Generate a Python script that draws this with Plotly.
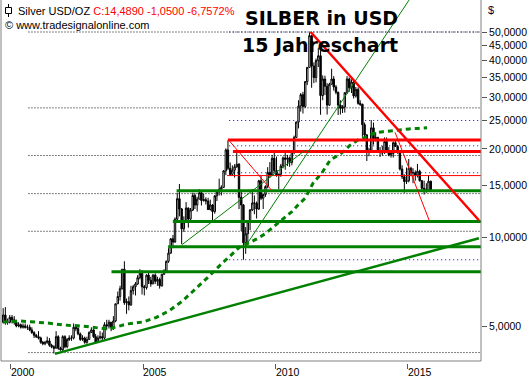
import datetime as dt
import plotly.graph_objects as go

# ---------------- data (monthly silver candles, USD/oz) ----------------
START_YEAR, START_MONTH = 1999, 9

OPEN = [
    5.15, 5.45, 5.15, 5.15,
    5.35, 5.25, 5.15, 5.00, 5.05, 4.95, 5.00, 4.95, 4.95, 4.85, 4.75, 4.65,
    4.60, 4.55, 4.40, 4.35, 4.40, 4.45, 4.30, 4.25, 4.20, 4.60, 4.20, 4.15,
    4.60, 4.25, 4.50, 4.55, 4.55, 4.95, 4.90, 4.70, 4.50, 4.55, 4.40, 4.50,
    4.75, 4.85, 4.60, 4.40, 4.55, 4.60, 4.55, 5.05, 5.00, 5.15, 4.95, 5.20,
    5.95, 6.30, 6.70, 7.80, 6.00, 6.05, 5.90, 6.60, 6.80, 6.95, 7.30, 7.55,
    6.80, 6.75, 7.45, 7.15, 6.95, 7.45, 7.10, 7.20, 6.85, 7.50, 7.70, 8.30,
    8.85, 9.90, 9.65, 11.55, 13.55, 12.50, 10.70, 11.30, 12.60, 11.55, 12.40, 13.90,
    12.90, 13.50, 14.20, 13.35, 13.45, 13.30, 12.45, 12.90, 12.25, 13.85, 14.30, 14.60,
    14.80, 16.85, 19.85, 17.20, 16.40, 16.95, 17.40, 17.75, 13.70, 12.90, 9.60, 10.30,
    11.30, 12.40, 13.10, 13.10, 12.50, 15.60, 13.60, 14.00, 14.90, 16.65, 16.30, 18.60,
    16.90, 16.25, 16.40, 17.50, 18.65, 18.45, 18.65, 18.00, 19.60, 21.90, 24.70, 28.00,
    30.60, 27.90, 33.90, 37.90, 48.60, 38.30, 35.00, 40.00, 41.50, 30.40, 34.60, 32.70,
    28.20, 33.20, 34.60, 32.50, 31.20, 28.20, 27.50, 27.80, 31.10, 34.60, 32.30, 33.80,
    30.30, 31.90, 28.60, 28.40, 24.20, 22.30, 19.70, 19.80, 23.60, 21.70, 21.90, 19.50,
    19.50, 19.40, 21.20, 19.70, 19.10, 19.30, 21.00, 20.40, 19.40, 17.10, 16.10, 15.50,
    15.60, 17.20, 16.60, 16.60, 16.30, 16.80, 15.60, 14.70, 14.60, 14.50, 15.54,
]
HIGH = [
    5.75, 5.80, 5.30, 5.45,
    5.45, 5.40, 5.25, 5.15, 5.10, 5.10, 5.10, 5.05, 5.05, 4.95, 4.80, 4.70,
    4.80, 4.60, 4.45, 4.45, 4.60, 4.55, 4.35, 4.30, 4.80, 4.65, 4.25, 4.65,
    4.65, 4.55, 4.65, 4.65, 5.10, 5.00, 5.05, 4.75, 4.65, 4.60, 4.60, 4.80,
    4.95, 4.90, 4.70, 4.65, 4.80, 4.75, 5.15, 5.25, 5.25, 5.15, 5.40, 5.95,
    6.55, 6.85, 7.80, 8.30, 6.20, 6.30, 6.85, 6.90, 7.05, 7.45, 7.80, 7.75,
    6.90, 7.50, 7.60, 7.35, 7.50, 7.55, 7.35, 7.30, 7.50, 7.80, 8.35, 9.20,
    9.95, 10.20, 11.70, 14.20, 15.20, 12.60, 11.80, 13.20, 12.65, 12.60, 14.20, 14.15,
    13.75, 14.60, 14.30, 14.10, 13.70, 13.65, 13.45, 13.00, 13.95, 14.40, 15.85, 15.05,
    16.95, 20.10, 21.40, 18.00, 17.60, 17.75, 19.45, 17.90, 14.30, 13.00, 10.85, 11.40,
    12.50, 14.60, 13.90, 13.25, 15.70, 16.20, 14.05, 15.05, 17.35, 18.05, 19.10, 19.40,
    18.85, 16.50, 17.80, 18.85, 19.50, 19.10, 18.85, 19.70, 22.20, 24.80, 29.30, 31.00,
    31.30, 34.00, 38.00, 49.80, 48.70, 39.40, 40.60, 44.20, 43.20, 35.60, 35.50, 33.50,
    33.60, 37.50, 35.40, 33.00, 31.30, 29.30, 28.20, 31.10, 35.40, 35.00, 34.50, 34.00,
    32.50, 32.40, 29.30, 28.50, 24.60, 22.50, 20.20, 25.10, 24.60, 22.80, 22.00, 20.30,
    20.50, 21.90, 21.90, 20.30, 19.60, 21.20, 21.60, 20.65, 19.50, 17.60, 16.40, 17.30,
    18.50, 17.40, 17.20, 16.90, 17.80, 17.00, 15.70, 15.60, 15.30, 16.30, 15.60,
]
LOW = [
    5.10, 5.05, 5.05, 5.10,
    5.10, 5.05, 4.95, 4.95, 4.90, 4.90, 4.90, 4.85, 4.80, 4.70, 4.55, 4.55,
    4.50, 4.35, 4.30, 4.30, 4.35, 4.25, 4.20, 4.03, 4.20, 4.15, 4.12, 4.10,
    4.20, 4.20, 4.45, 4.45, 4.50, 4.80, 4.65, 4.45, 4.45, 4.35, 4.35, 4.50,
    4.75, 4.55, 4.35, 4.40, 4.50, 4.45, 4.50, 4.85, 4.90, 4.80, 4.85, 5.15,
    5.95, 6.10, 6.65, 5.90, 5.50, 5.65, 5.85, 6.40, 6.35, 6.90, 7.20, 6.40,
    6.35, 6.65, 6.95, 6.80, 6.95, 6.95, 6.85, 6.70, 6.80, 7.45, 7.60, 8.20,
    8.80, 9.20, 9.60, 11.40, 11.80, 9.50, 10.45, 11.20, 10.80, 11.20, 12.30, 12.50,
    12.25, 13.50, 12.85, 13.25, 12.95, 12.40, 12.35, 11.35, 12.05, 13.30, 13.90, 13.90,
    14.80, 16.30, 16.95, 16.20, 16.20, 16.00, 17.25, 12.50, 10.50, 8.40, 8.80, 9.40,
    10.60, 12.30, 12.00, 11.60, 12.40, 13.40, 12.50, 13.75, 14.70, 15.95, 16.20, 16.60,
    16.10, 14.60, 16.10, 17.20, 17.00, 17.50, 17.40, 17.60, 19.20, 21.90, 23.50, 26.80,
    26.40, 27.60, 33.00, 37.70, 32.30, 33.50, 33.70, 38.00, 26.15, 29.30, 30.50, 26.20,
    28.00, 33.10, 31.60, 30.70, 26.10, 26.20, 26.50, 26.60, 30.80, 31.30, 31.00, 29.70,
    29.90, 28.30, 28.00, 22.00, 21.50, 18.20, 18.90, 19.70, 20.70, 21.20, 19.40, 18.80,
    19.00, 19.25, 19.60, 18.90, 18.70, 18.70, 20.40, 19.30, 16.90, 15.80, 14.20, 15.20,
    15.40, 16.20, 15.30, 15.60, 16.00, 15.50, 14.40, 14.00, 14.20, 14.40, 14.40,
]
CLOSE = [
    5.45, 5.15, 5.15, 5.35,
    5.25, 5.15, 5.00, 5.05, 4.95, 5.00, 4.95, 4.95, 4.85, 4.75, 4.65, 4.60,
    4.55, 4.40, 4.35, 4.40, 4.45, 4.30, 4.25, 4.20, 4.60, 4.20, 4.15, 4.60,
    4.25, 4.50, 4.55, 4.55, 4.95, 4.90, 4.70, 4.50, 4.55, 4.40, 4.50, 4.75,
    4.85, 4.60, 4.40, 4.55, 4.60, 4.55, 5.05, 5.00, 5.15, 4.95, 5.20, 5.95,
    6.30, 6.70, 7.80, 6.00, 6.05, 5.90, 6.60, 6.80, 6.95, 7.30, 7.55, 6.80,
    6.75, 7.45, 7.15, 6.95, 7.45, 7.10, 7.20, 6.85, 7.50, 7.70, 8.30, 8.85,
    9.90, 9.65, 11.55, 13.55, 12.50, 10.70, 11.30, 12.60, 11.55, 12.40, 13.90, 12.90,
    13.50, 14.20, 13.35, 13.45, 13.30, 12.45, 12.90, 12.25, 13.85, 14.30, 14.60, 14.80,
    16.85, 19.85, 17.20, 16.40, 16.95, 17.40, 17.75, 13.70, 12.90, 9.60, 10.30, 11.30,
    12.40, 13.10, 13.10, 12.50, 15.60, 13.60, 14.00, 14.90, 16.65, 16.30, 18.60, 16.90,
    16.25, 16.40, 17.50, 18.65, 18.45, 18.65, 18.00, 19.60, 21.90, 24.70, 28.00, 30.60,
    27.90, 33.90, 37.90, 48.60, 38.30, 35.00, 40.00, 41.50, 30.40, 34.60, 32.70, 28.20,
    33.20, 34.60, 32.50, 31.20, 28.20, 27.50, 27.80, 31.10, 34.60, 32.30, 33.80, 30.30,
    31.90, 28.60, 28.40, 24.20, 22.30, 19.70, 19.80, 23.60, 21.70, 21.90, 19.50, 19.50,
    19.40, 21.20, 19.70, 19.10, 19.30, 21.00, 20.40, 19.40, 17.10, 16.10, 15.50, 15.60,
    17.20, 16.60, 16.60, 16.30, 16.80, 15.60, 14.70, 14.60, 14.50, 15.54, 14.49,
]

# long moving average (green dotted): decimal year / price
MA_YEARS = [1999.70, 2000.34, 2001.36, 2001.97, 2002.68, 2003.36, 2003.67, 2004.39,
            2004.99, 2005.5, 2006.0, 2006.5, 2007.0, 2007.5, 2008.0, 2008.20, 2008.66,
            2008.96, 2009.30, 2009.60, 2009.87, 2010.36, 2010.62, 2010.85, 2011.12,
            2011.42, 2011.76, 2012.06, 2012.51, 2012.82, 2013.12, 2013.46, 2013.76,
            2014.06, 2014.40, 2014.71, 2015.05, 2015.39, 2015.73]
MA_VALUES = [5.16, 5.20, 5.12, 5.04, 5.00, 4.92, 4.88, 5.08,
             5.16, 5.35, 5.65, 6.10, 6.70, 7.40, 8.20, 8.50, 9.30,
             9.56, 9.90, 10.28, 10.75, 11.70, 12.25, 12.90, 13.60,
             15.30, 16.60, 18.30, 19.40, 20.60, 21.50, 22.00, 22.70,
             22.90, 23.10, 23.30, 23.40, 23.50, 23.60]

# horizontal levels: price and the year they start at
BLACK_DOT_LEVELS = [50.0, 27.6, 19.0, 14.1, 10.5, 4.06]
BLACK_DOT_START = 2000.66
BLUE_DOT_LEVELS = [50.0, 25.0, 20.5, 16.6, 8.4]
BLUE_DOT_START = 2008.25
RED_LEVELS = [21.47, 19.6, 16.24]
RED_STARTS = [2008.20, 2008.39, 2008.17]
GREEN_LEVELS = [14.42, 11.33, 9.30, 7.65]
GREEN_STARTS = [2006.26, 2006.12, 2005.94, 2003.80]

# trend lines: (year0, price0, year1, price1)
RED_TREND = (2011.33, 50.0, 2017.69, 11.45)
RED_THIN_1 = (2008.24, 21.4, 2009.86, 14.45)
RED_THIN_2 = (2014.52, 22.8, 2015.83, 11.33)
GREEN_TREND = (2001.66, 4.02, 2017.69, 9.94)
GREEN_THIN_1 = (2006.45, 9.43, 2011.12, 19.8)
GREEN_THIN_2 = (2008.85, 9.30, 2015.05, 64.2)

Y_TICKS = [5, 10, 15, 20, 25, 30, 35, 40, 45, 50]
X_TICK_YEARS = [2000, 2005, 2010, 2015]
X_TICK_LABELS = ["2000", "2005", "2010", "2015"]

LAST_CLOSE, CHANGE, CHANGE_PCT = 14.4890, -1.0500, -6.7572

# ---------------- helpers ----------------
def month_dates(n):
    out, y, m = [], START_YEAR, START_MONTH
    for _ in range(n):
        out.append(f"{y:04d}-{m:02d}-15")
        m += 1
        if m > 12:
            m, y = 1, y + 1
    return out

def ydate(yr):
    y = int(yr)
    a, b = dt.datetime(y, 1, 1), dt.datetime(y + 1, 1, 1)
    return (a + (b - a) * (yr - y)).strftime("%Y-%m-%d %H:%M:%S")

def de(v, dec=4):
    return f"{v:.{dec}f}".replace(".", ",")

W, H = 531, 380
ML, MR, MT, MB = 1, 50, 0, 17
PW, PH = W - ML - MR, H - MT - MB

def px(x):
    return (x - ML) / PW

def py(y):
    return (H - MB - y) / PH

dates = month_dates(len(CLOSE))

fig = go.Figure()
fig.add_trace(go.Candlestick(
    x=dates, open=OPEN, high=HIGH, low=LOW, close=CLOSE,
    increasing=dict(line=dict(color="black", width=1), fillcolor="white"),
    decreasing=dict(line=dict(color="black", width=1), fillcolor="black"),
    whiskerwidth=0, hoverinfo="skip", showlegend=False))

END = ydate(2018.5)

def seg(x0, y0, x1, y1, color, width, dash="solid"):
    fig.add_trace(go.Scatter(x=[x0, x1], y=[y0, y1], mode="lines",
                             line=dict(color=color, width=width, dash=dash),
                             hoverinfo="skip", showlegend=False))

for lv in BLACK_DOT_LEVELS:
    seg(ydate(BLACK_DOT_START), lv, END, lv, "black", 1, "1px,2px")
for lv in BLUE_DOT_LEVELS:
    seg(ydate(BLUE_DOT_START), lv, END, lv, "#0000FF", 1, "1px,3px")

fig.add_trace(go.Scatter(x=[ydate(v) for v in MA_YEARS], y=MA_VALUES, mode="lines",
                         line=dict(color="#008000", width=3, dash="5px,4px"),
                         hoverinfo="skip", showlegend=False))

for lv, st in zip(GREEN_LEVELS, GREEN_STARTS):
    seg(ydate(st), lv, END, lv, "#008000", 3)
for lv, st, wd in zip(RED_LEVELS, RED_STARTS, [3, 3, 1]):
    seg(ydate(st), lv, END, lv, "#FF0000", wd)

def trend(t, color, width):
    y0, p0, y1, p1 = t
    seg(ydate(y0), p0, ydate(y1), p1, color, width)

trend(GREEN_TREND, "#008000", 2.5)
trend(GREEN_THIN_1, "#008000", 1)
trend(GREEN_THIN_2, "#008000", 1)
trend(RED_TREND, "#FF0000", 2.5)
trend(RED_THIN_1, "#FF0000", 1)
trend(RED_THIN_2, "#FF0000", 1)

# frame (left, right, bottom)
frame = dict(color="#808080", width=1)
fig.add_shape(type="line", xref="paper", yref="paper", x0=0, x1=0, y0=py(361), y1=1, line=frame)
fig.add_shape(type="line", xref="paper", yref="paper", x0=1, x1=1, y0=py(361), y1=1, line=frame)
fig.add_shape(type="line", xref="paper", yref="paper", x0=0, x1=1, y0=py(361), y1=py(361), line=frame)

# legend glyph
fig.add_shape(type="line", xref="paper", yref="paper", x0=px(8.5), x1=px(8.5), y0=py(4), y1=py(17),
              line=dict(color="black", width=1))
fig.add_shape(type="rect", xref="paper", yref="paper", x0=px(5.5), x1=px(11.5), y0=py(7.5), y1=py(13.5),
              line=dict(color="black", width=1), fillcolor="white")

ann_font = dict(family="Liberation Sans", size=11, color="black")
fig.add_annotation(xref="paper", yref="paper", x=px(16), y=py(10.5), xanchor="left", yanchor="middle",
                   showarrow=False, font=ann_font,
                   text=("Silver USD/OZ <span style='color:#FF0000'>C:" + de(LAST_CLOSE) + " "
                         + de(CHANGE) + " " + de(CHANGE_PCT) + "%</span>"))
fig.add_annotation(xref="paper", yref="paper", x=px(3), y=py(25), xanchor="left", yanchor="middle",
                   showarrow=False, font=ann_font, text="© www.tradesignalonline.com")

title_font = dict(family="DejaVu Sans", size=19, color="black")
fig.add_annotation(xref="paper", yref="paper", x=px(400), y=py(18), xanchor="right", yanchor="middle",
                   showarrow=False, font=title_font, text="<b>SILBER in USD</b>")
fig.add_annotation(xref="paper", yref="paper", x=px(400), y=py(45), xanchor="right", yanchor="middle",
                   showarrow=False, font=title_font, text="<b>15 Jahreschart</b>")

fig.add_annotation(xref="paper", yref="paper", x=px(486), y=py(10), xanchor="left", yanchor="middle",
                   showarrow=False, font=dict(family="Liberation Sans", size=11, color="#000040"), text="$")

for yr, lab in zip(X_TICK_YEARS, X_TICK_LABELS):
    fig.add_annotation(xref="x", yref="paper", x=f"{yr}-01-01", y=py(372), xanchor="left",
                       yanchor="middle", xshift=-2, showarrow=False,
                       font=dict(family="Liberation Sans", size=10.5, color="black"), text=lab)

fig.update_layout(
    width=W, height=H, margin=dict(l=ML, r=MR, t=MT, b=MB),
    paper_bgcolor="white", plot_bgcolor="white", separators=",.",
    showlegend=False, boxgap=0.0,
    xaxis=dict(type="date", range=[ydate(1999.6219), ydate(2017.7693)],
               rangeslider=dict(visible=False), showgrid=False, zeroline=False,
               showline=False, anchor="free", position=0,
               tickmode="array", tickvals=[f"{y}-01-01" for y in X_TICK_YEARS],
               showticklabels=False, ticks="outside", ticklen=5, tickcolor="#555555"),
    yaxis=dict(type="log", range=[0.57992, 1.80781], domain=[2 / PH, 1], side="right",
               showgrid=False, zeroline=False, showline=False,
               tickmode="array", tickvals=Y_TICKS, tickformat=".4f",
               ticks="outside", ticklen=5, tickcolor="#555555",
               tickfont=dict(family="Liberation Sans", size=10.5, color="black")),
)

fig.write_html("out.html", config={"displayModeBar": False},
               post_script="document.body.style.margin='0';document.body.style.padding='0';")
